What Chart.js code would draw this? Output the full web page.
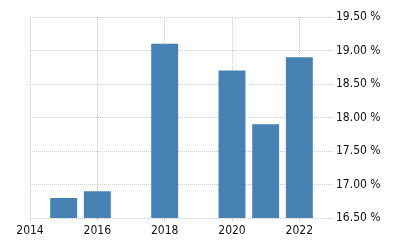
<!DOCTYPE html>
<html>
<head>
<meta charset="utf-8">
<script src="https://cdn.jsdelivr.net/npm/chart.js@4"></script>
<style>
  html, body { margin: 0; padding: 0; background: #fff; }
  #wrap { width: 400px; height: 250px; }
</style>
</head>
<body>
<div id="wrap"><canvas id="chart" width="400" height="250"></canvas></div>
<script>
// values
const years = [2015, 2016, 2018, 2020, 2021, 2022];
const rates = [16.8, 16.9, 19.1, 18.7, 17.9, 18.9];
const yearTicks = [2014, 2016, 2018, 2020, 2022];

const gridColor = '#cccccc';

const ctx = document.getElementById('chart').getContext('2d');
new Chart(ctx, {
    type: 'bar',
    data: {
        datasets: [{
            data: years.map((y, i) => ({ x: y, y: rates[i] })),
            backgroundColor: '#4682b4',
            borderWidth: 0,
            barPercentage: 0.8,
            categoryPercentage: 1
        }]
    },
    options: {
        responsive: false,
        animation: false,
        layout: { padding: { top: 17, left: 30, right: 0, bottom: 0 } },
        plugins: { legend: { display: false }, tooltip: { enabled: false } },
        scales: {
            x: {
                type: 'linear',
                min: 2014,
                max: 2023,
                offset: false,
                grid: { color: gridColor, offset: false, tickLength: 3, drawTicks: true },
                border: { display: false, dash: [1, 1] },
                afterBuildTicks: s => { s.ticks = yearTicks.map(v => ({ value: v })); },
                afterFit: s => { s.height = 32; },
                ticks: {
                    color: '#111',
                    font: { family: '"DejaVu Sans Condensed", "DejaVu Sans"', size: 12 },
                    maxRotation: 0,
                    padding: 3,
                    callback: v => String(v)
                }
            },
            y: {
                position: 'right',
                min: 16.5,
                max: 19.5,
                grid: { color: gridColor, drawTicks: false },
                border: { display: false, dash: [1, 1] },
                afterFit: s => { s.width = 67; },
                ticks: {
                    stepSize: 0.5,
                    color: '#111',
                    padding: 3,
                    font: { family: '"DejaVu Sans Condensed", "DejaVu Sans"', size: 12 },
                    callback: v => v.toFixed(2) + ' %'
                }
            }
        }
    }
});
</script>
</body>
</html>
